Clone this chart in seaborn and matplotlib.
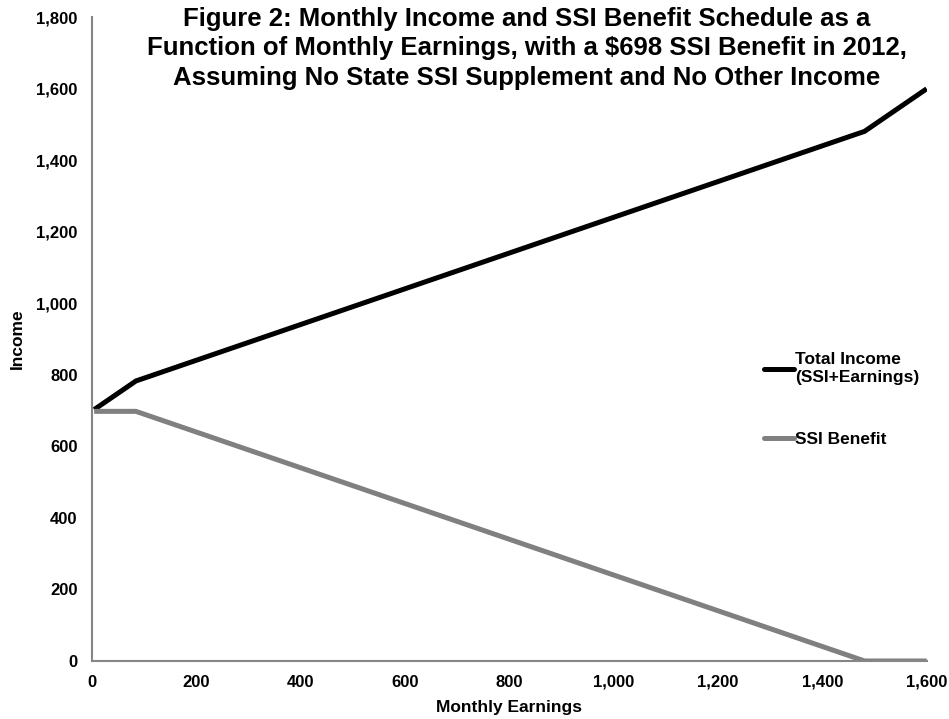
import matplotlib
matplotlib.use("Agg")
import matplotlib.pyplot as plt
import matplotlib.ticker as mticker
import seaborn as sns
import pandas as pd

# SSI schedule, 2012: $698 federal benefit, $85 earnings exclusion,
# benefit reduced $1 for every $2 of earnings above the exclusion.
earnings = [5, 85, 1481, 1600]
ssi_benefit = [698, 698, 0, 0]
total_income = [703, 783, 1481, 1600]

series_names = ["Total Income\n(SSI+Earnings)", "SSI Benefit"]
series_colors = ["#000000", "#808080"]
x_ticks = [0, 200, 400, 600, 800, 1000, 1200, 1400, 1600]
y_ticks = [0, 200, 400, 600, 800, 1000, 1200, 1400, 1600, 1800]

df = pd.concat([
    pd.DataFrame({"Monthly Earnings": earnings, "Income": total_income,
                  "Series": series_names[0]}),
    pd.DataFrame({"Monthly Earnings": earnings, "Income": ssi_benefit,
                  "Series": series_names[1]}),
], ignore_index=True)

sns.set_style("white")
plt.rcParams["font.family"] = ["Liberation Sans", "DejaVu Sans"]
plt.rcParams["font.weight"] = "bold"
plt.rcParams["text.color"] = "black"
plt.rcParams["axes.labelcolor"] = "black"

fig = plt.figure(figsize=(9.49, 7.19), dpi=100)
ax = fig.add_axes([0.0965, 0.0807, 0.880, 0.8953])

sns.lineplot(data=df, x="Monthly Earnings", y="Income", hue="Series",
             palette=dict(zip(series_names, series_colors)),
             linewidth=3.6, ax=ax, sort=False)
for ln in ax.lines:
    ln.set_solid_capstyle("butt")
    ln.set_solid_joinstyle("miter")

ax.set_xlim(0, 1600)
ax.set_ylim(0, 1800)
ax.set_xticks(x_ticks)
ax.set_yticks(y_ticks)
fmt = mticker.FuncFormatter(lambda v, p: f"{int(v):,}")
ax.xaxis.set_major_formatter(fmt)
ax.yaxis.set_major_formatter(fmt)

for side in ["top", "right"]:
    ax.spines[side].set_visible(False)
for side in ["left", "bottom"]:
    ax.spines[side].set_color("#868686")
    ax.spines[side].set_linewidth(1.5)

ax.tick_params(axis="both", direction="out", length=5, width=1.0,
               color="#868686", labelsize=12, labelcolor="black", pad=5)
for lab in ax.get_xticklabels() + ax.get_yticklabels():
    lab.set_fontweight("bold")

ax.set_xlabel("Monthly Earnings", fontsize=12.5, fontweight="bold",
              color="black", labelpad=7)
ax.set_ylabel("Income", fontsize=12.5, fontweight="bold", color="black",
              labelpad=8)

fig.text(0.555, 1 - 7 / 719,
         "Figure 2: Monthly Income and SSI Benefit Schedule as a\n"
         "Function of Monthly Earnings, with a $698 SSI Benefit in 2012,\n"
         "Assuming No State SSI Supplement and No Other Income",
         ha="center", va="top", fontsize=18.5, fontweight="bold",
         color="black", linespacing=1.28)

leg = ax.legend(loc="upper left", bbox_to_anchor=(0.797, 0.490),
                frameon=False, handlelength=1.75, handletextpad=0.05,
                labelspacing=2.7, prop={"size": 12.5, "weight": "bold"},
                borderaxespad=0)
for h in leg.get_lines():
    h.set_linewidth(3.6)
    h.set_solid_capstyle("round")
for t in leg.get_texts():
    t.set_color("black")

fig.savefig("out.png", dpi=100)
